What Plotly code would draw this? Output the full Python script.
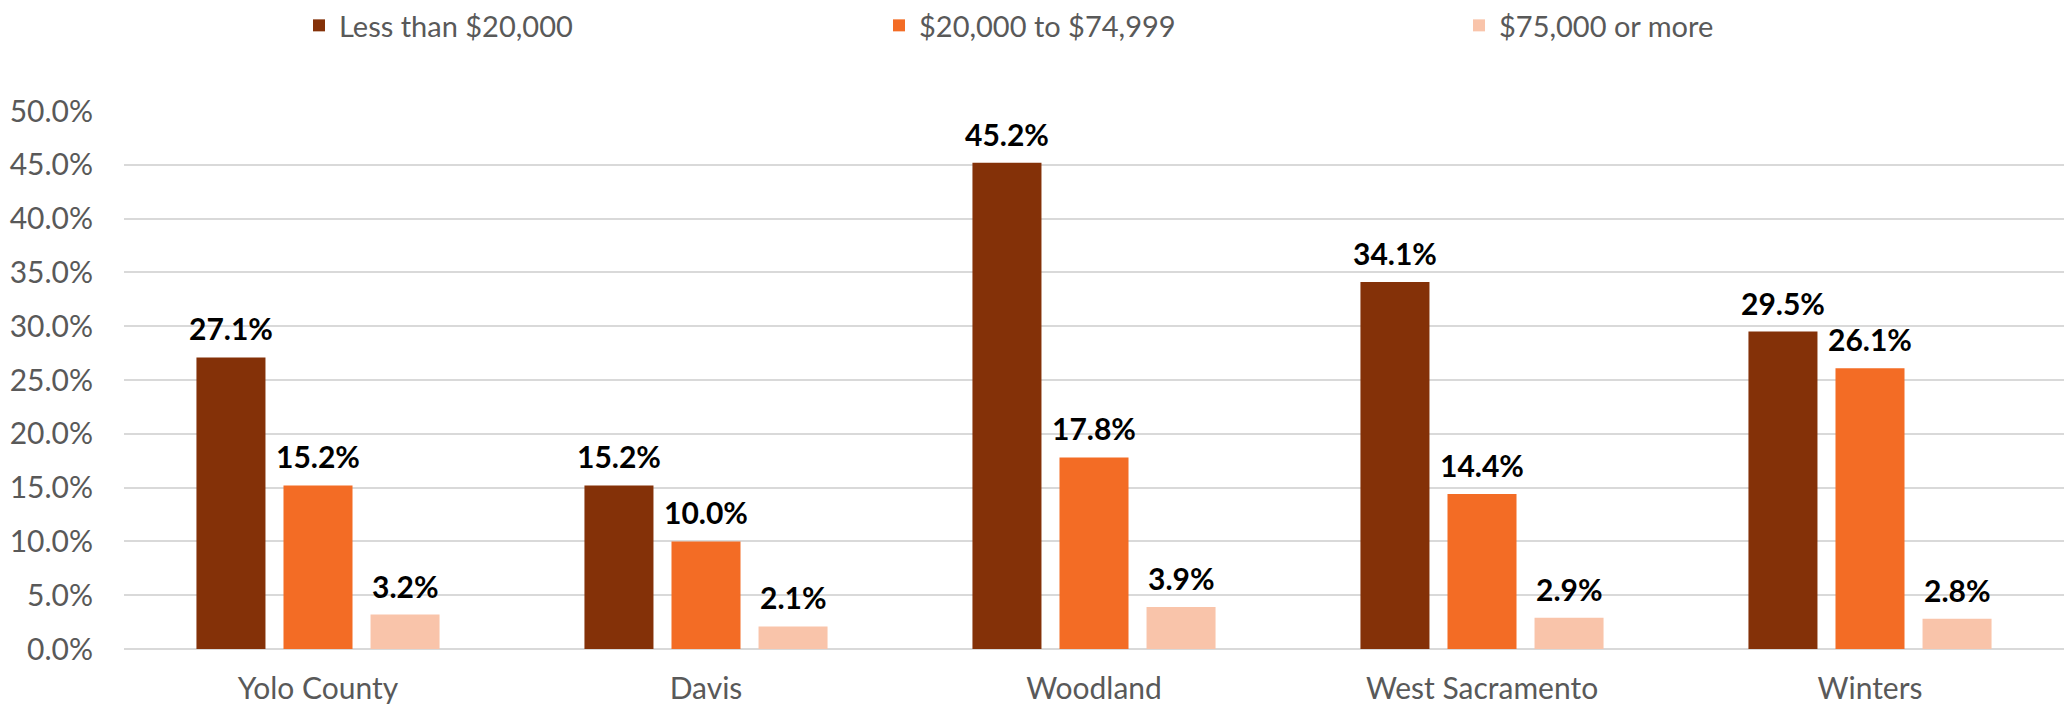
import plotly.graph_objects as go

categories = ["Yolo County", "Davis", "Woodland", "West Sacramento", "Winters"]
series_names = ["Less than $20,000", "$20,000 to $74,999", "$75,000 or more"]
less_than_20k = [27.1, 15.2, 45.2, 34.1, 29.5]
from_20k_to_75k = [15.2, 10.0, 17.8, 14.4, 26.1]
over_75k = [3.2, 2.1, 3.9, 2.9, 2.8]
series_values = [less_than_20k, from_20k_to_75k, over_75k]
colors = ["#843108", "#F36C25", "#F9C4AA"]

W, H = 2064, 706
ML, MR, MT, MB = 124, 0, 111, 57
BARGAP = 0.327
BARGROUPGAP = 0.207
FONT = "Lato"
GRAY = "#595959"

fig = go.Figure()
for name, vals, col in zip(series_names, series_values, colors):
    fig.add_trace(go.Bar(
        x=categories, y=vals, name=name,
        marker=dict(color=col, line=dict(width=0)),
        hoverinfo="x+y",
    ))

cat_w = (W - ML - MR) / len(categories)
slot = cat_w * (1 - BARGAP) / len(series_names)
annotations = []
for i, vals in enumerate(series_values):
    for c, v in zip(categories, vals):
        annotations.append(dict(
            x=c, y=v, xref="x", yref="y",
            text=f"{v:.1f}%", showarrow=False,
            xanchor="center", yanchor="bottom",
            xshift=(i - 1) * slot, yshift=9,
            font=dict(family=FONT, size=30, color="#000000", weight="bold"),
        ))

fig.update_layout(
    width=W, height=H,
    margin=dict(l=ML, r=MR, t=MT, b=MB, pad=0),
    barmode="group", bargap=BARGAP, bargroupgap=BARGROUPGAP,
    paper_bgcolor="white", plot_bgcolor="white",
    font=dict(family=FONT, size=30, color=GRAY),
    showlegend=True,
    legend=dict(
        orientation="h", xref="container", yref="container",
        x=299 / W, y=1, xanchor="left", yanchor="top",
        entrywidth=535, entrywidthmode="pixels",
        font=dict(family=FONT, size=29, color=GRAY),
        bgcolor="rgba(0,0,0,0)", itemclick=False,
    ),
    annotations=annotations,
    xaxis=dict(
        showgrid=False, showline=False, ticks="", zeroline=False,
        tickfont=dict(family=FONT, size=30, color=GRAY),
        ticklabelstandoff=19,
    ),
    yaxis=dict(
        range=[0, 50], dtick=5, tick0=0,
        tickformat=".1f", ticksuffix="%",
        showgrid=True, gridcolor="#D9D9D9", gridwidth=2,
        zeroline=True, zerolinecolor="#D9D9D9", zerolinewidth=2,
        showline=False, ticks="",
        tickfont=dict(family=FONT, size=30, color=GRAY),
        ticklabelstandoff=30,
    ),
)

fig.write_html(
    "out.html",
    config={"displayModeBar": False},
    post_script="document.body.style.margin='0';document.body.style.overflow='hidden';",
)
